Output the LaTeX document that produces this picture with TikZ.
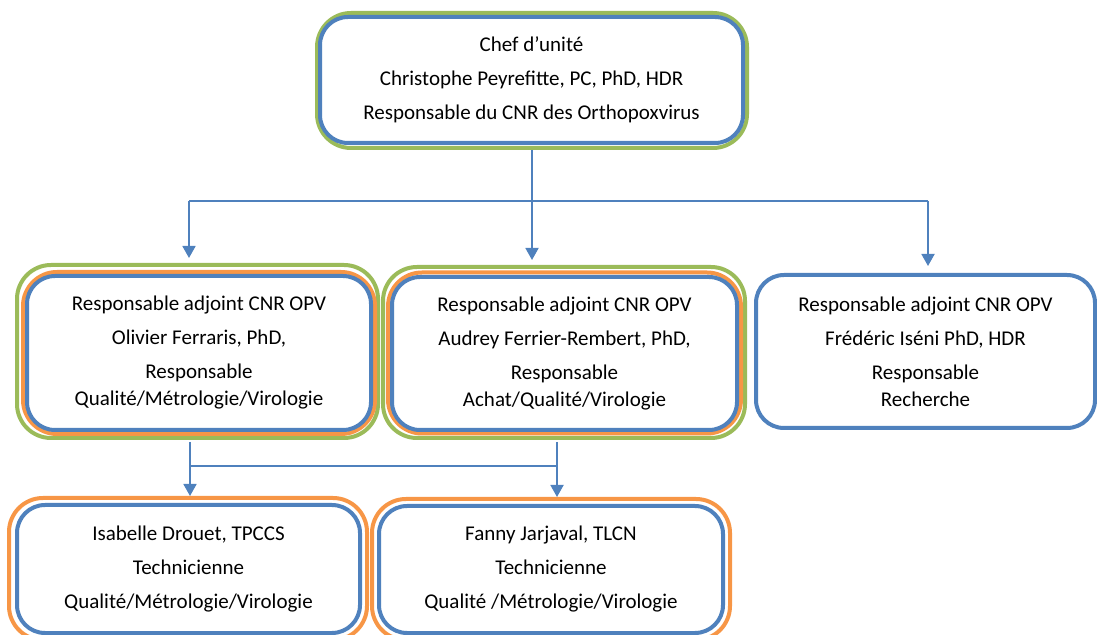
\documentclass[tikz,border=0pt]{standalone}
\usepackage{fontspec}
\setmainfont{Carlito}
\usetikzlibrary{arrows.meta}
\definecolor{unitblue}{HTML}{4F81BD}
\definecolor{unitgreen}{HTML}{9BBB59}
\definecolor{unitorange}{HTML}{F79646}
\begin{document}
\begin{tikzpicture}[x=0.5pt, y=-0.5pt, >={Triangle[width=6.5pt,length=6pt]},
  unit/.style={draw=unitblue, line width=2pt, rounded corners=14pt, fill=white, align=center, inner sep=0pt, font=\fontsize{10.5}{13.5}\selectfont},
  ring/.style={draw=#1, line width=2pt, rounded corners=17pt, inner sep=0pt},
  link/.style={draw=unitblue, line width=0.9pt}]
\useasboundingbox (0,0) rectangle (1097,635);
% outer frames
\node[ring=unitgreen, minimum width=215pt, minimum height=67.5pt] (chefg) at (532,80.5) {};
\node[ring=unitgreen, minimum width=180.5pt, minimum height=86.5pt] (adj1g) at (197.5,351.5) {};
\node[ring=unitorange, minimum width=176pt, minimum height=81pt] (adj1o) at (199,353) {};
\node[ring=unitgreen, minimum width=181pt, minimum height=85.5pt] (adj2g) at (564,352.5) {};
\node[ring=unitorange, minimum width=176.5pt, minimum height=80.5pt] (adj2o) at (564.5,353) {};
\node[ring=unitorange, minimum width=179pt, minimum height=71pt] (tech1o) at (188,569) {};
\node[ring=unitorange, minimum width=179pt, minimum height=70.5pt] (tech2o) at (551,569.5) {};
% boxes
\node[unit, minimum width=211.5pt, minimum height=63pt] (chef) at (531.5,80) {Chef d’unité\\[3.5pt]Christophe Peyrefitte, PC, PhD, HDR\\[3.5pt]Responsable du CNR des Orthopoxvirus};
\node[unit, minimum width=172pt, minimum height=77pt] (adj1) at (199,353) {Responsable adjoint CNR OPV\\[3.5pt]Olivier Ferraris, PhD,\\[3.5pt]Responsable\\Qualité/Métrologie/Virologie};
\node[unit, minimum width=172.5pt, minimum height=76.5pt] (adj2) at (564.5,353.5) {Responsable adjoint CNR OPV\\[3.5pt]Audrey Ferrier-Rembert, PhD,\\[3.5pt]Responsable\\Achat/Qualité/Virologie};
\node[unit, minimum width=169.5pt, minimum height=76.5pt] (adj3) at (925.5,351.5) {Responsable adjoint CNR OPV\\[3.5pt]Frédéric Iséni PhD, HDR\\[3.5pt]Responsable\\Recherche};
\node[unit, minimum width=171.5pt, minimum height=64pt] (tech1) at (188.5,569) {Isabelle Drouet, TPCCS\\[3.5pt]Technicienne\\[3.5pt]Qualité/Métrologie/Virologie};
\node[unit, minimum width=172pt, minimum height=63.5pt] (tech2) at (551,569.5) {Fanny Jarjaval, TLCN\\[3.5pt]Technicienne\\[3.5pt]Qualité /Métrologie/Virologie};
% connectors
\coordinate (split) at (189,201);
\coordinate (splitend) at (928,201);
\draw[link] (split) -- (splitend);
\draw[link,->, shorten >=2.5pt] (chefg.south) -- (chefg.south |- adj2g.north);
\draw[link,->, shorten >=2.5pt] (split) -- (split |- adj1g.north);
\draw[link,->, shorten >=3.5pt] (splitend) -- (splitend |- adj3.north);
\coordinate (merge) at (190,466);
\coordinate (mergeend) at (557,466);
\draw[link] (merge) -- (mergeend);
\draw[link,->, shorten <=1pt] (merge |- adj1g.south) -- (merge |- tech1o.north);
\draw[link,->, shorten <=1pt] (mergeend |- adj2g.south) -- (mergeend |- tech2o.north);
\end{tikzpicture}
\end{document}
